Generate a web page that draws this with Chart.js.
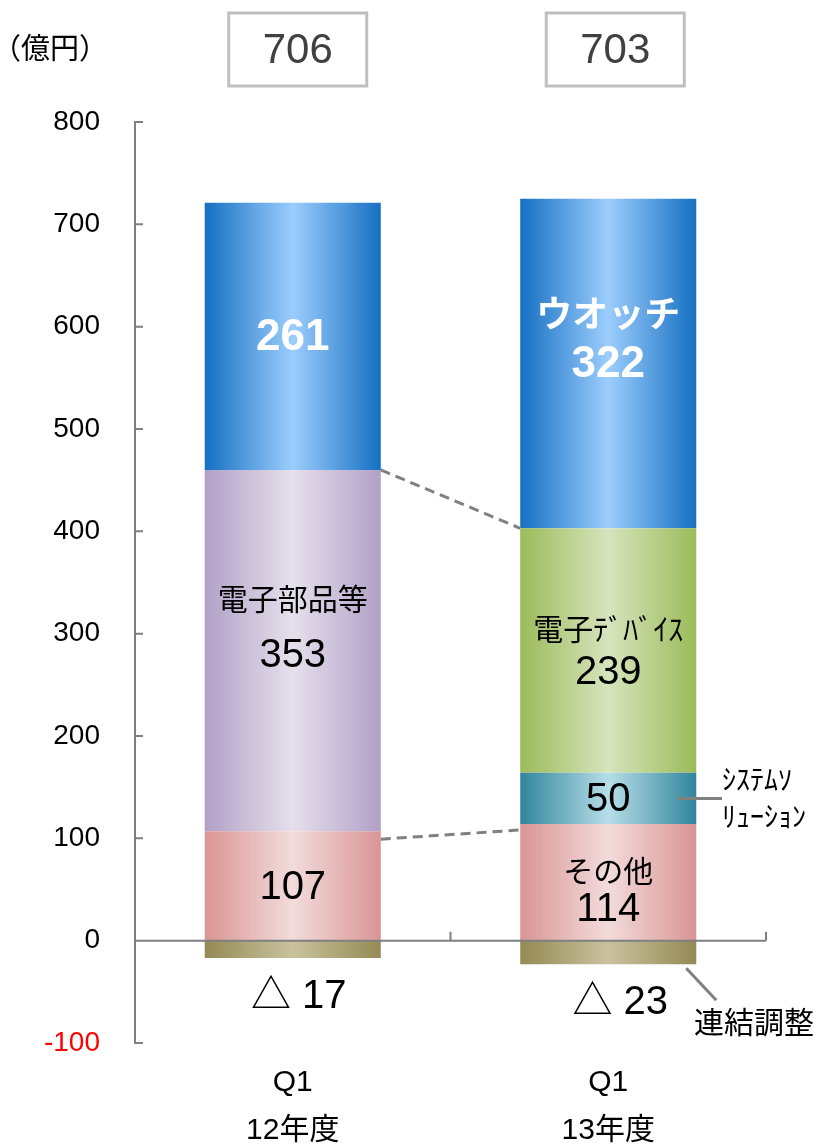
<!DOCTYPE html>
<html lang="ja">
<head>
<meta charset="UTF-8">
<title>売上高 Q1 比較</title>
<script src="https://cdn.jsdelivr.net/npm/chart.js"></script>
<style>
    html, body { margin: 0; padding: 0; background: #fff; }
    .grafico { position: relative; width: 821px; height: 1146px; }
</style>
</head>
<body>

<div class="grafico">
    <canvas id="vendas"></canvas>
</div>

<script>
    // 区分ごとの売上（億円）
    const categories = [['Q1', '12年度'], ['Q1', '13年度']];
    const other = [107, 114];
    const systemSolution = [null, 50];
    const componentsEtc = [353, null];
    const devices = [null, 239];
    const watch = [261, 322];
    const adjustment = [-17, -23];
    const totals = [706, 703];

    const yMin = -100;
    const yMax = 800;
    const yStep = 100;

    const FONT = "'Liberation Sans', 'Noto Sans CJK JP', sans-serif";
    const barPct = 0.558;

    // 棒の横方向グラデーション（端が濃く中央が明るい）
    function gradientFill(edge, mid) {
        return function (ctx) {
            const chart = ctx.chart;
            const area = chart.chartArea;
            if (!area || ctx.dataIndex === undefined) return edge;
            const cx = chart.scales.x.getPixelForValue(ctx.dataIndex);
            const half = (area.right - area.left) / categories.length * barPct / 2;
            const g = chart.ctx.createLinearGradient(cx - half, 0, cx + half, 0);
            g.addColorStop(0, edge);
            g.addColorStop(0.5, mid);
            g.addColorStop(1, edge);
            return g;
        };
    }

    function text(ctx, str, x, y, size, color, bold, align) {
        ctx.font = (bold ? 'bold ' : '') + size + 'px ' + FONT;
        ctx.fillStyle = color;
        ctx.textAlign = align || 'center';
        ctx.textBaseline = 'middle';
        ctx.fillText(str, x, y);
    }

    // 軸線・目盛り・ラベル類
    const decorations = {
        id: 'decorations',
        afterDatasetsDraw(chart) {
            const ctx = chart.ctx;
            const area = chart.chartArea;
            const ys = chart.scales.y;
            const xs = chart.scales.x;
            const y0 = ys.getPixelForValue(0);
            const el = (ds, i) => chart.getDatasetMeta(ds).data[i];
            const mid = (e) => (e.y + e.base) / 2;

            ctx.save();
            ctx.strokeStyle = '#808080';
            ctx.lineWidth = 2;

            // 0 の横線と区切り目盛り
            ctx.beginPath();
            ctx.moveTo(area.left, y0);
            ctx.lineTo(area.right, y0);
            const catW = (area.right - area.left) / categories.length;
            for (let i = 1; i <= categories.length; i++) {
                const x = area.left + catW * i;
                ctx.moveTo(x, y0);
                ctx.lineTo(x, y0 - 9);
            }
            // Y 軸の内向き目盛り
            for (let v = yMin; v <= yMax; v += yStep) {
                const y = ys.getPixelForValue(v);
                ctx.moveTo(area.left, y);
                ctx.lineTo(area.left + 8, y);
            }
            ctx.stroke();

            // 区分をつなぐ破線
            ctx.lineWidth = 3;
            ctx.setLineDash([10, 6]);
            ctx.beginPath();
            let a = el(2, 0), b = el(3, 1);
            ctx.moveTo(a.x + a.width / 2, a.y);
            ctx.lineTo(b.x - b.width / 2, b.y);
            a = el(0, 0); b = el(0, 1);
            ctx.moveTo(a.x + a.width / 2, a.y + 8);
            ctx.lineTo(b.x - b.width / 2, b.y + 6);
            ctx.stroke();
            ctx.setLineDash([]);

            // 引き出し線
            const sys = el(1, 1);
            ctx.beginPath();
            ctx.moveTo(sys.x + sys.width / 2 - 19, mid(sys));
            ctx.lineTo(722, mid(sys));
            const adj = el(5, 1);
            ctx.moveTo(adj.x + adj.width / 2 - 10, adj.y + 4);
            ctx.lineTo(adj.x + adj.width / 2 + 20, adj.y + 36);
            ctx.stroke();

            // 棒内のラベル
            let e = el(4, 0);
            text(ctx, String(watch[0]), e.x, mid(e) + 1, 44, '#fff', true);
            e = el(4, 1);
            text(ctx, 'ウオッチ', e.x, mid(e) - 46, 36, '#fff', true);
            text(ctx, String(watch[1]), e.x, mid(e) + 1, 44, '#fff', true);
            e = el(2, 0);
            text(ctx, '電子部品等', e.x, mid(e) - 49, 30, '#000');
            text(ctx, String(componentsEtc[0]), e.x, mid(e) + 5, 40, '#000');
            e = el(3, 1);
            text(ctx, '電子ﾃﾞﾊﾞｲｽ', e.x, mid(e) - 19, 30, '#000');
            text(ctx, String(devices[1]), e.x, mid(e) + 22, 40, '#000');
            e = el(1, 1);
            text(ctx, String(systemSolution[1]), e.x, mid(e) + 2, 40, '#000');
            e = el(0, 0);
            text(ctx, String(other[0]), e.x, mid(e) + 2, 40, '#000');
            e = el(0, 1);
            text(ctx, 'その他', e.x, mid(e) - 9, 30, '#000');
            text(ctx, String(other[1]), e.x, mid(e) + 28, 40, '#000');

            // 棒外のラベル
            text(ctx, 'ｼｽﾃﾑｿ', 722, mid(sys) - 16, 28, '#000', false, 'left');
            text(ctx, 'ﾘｭｰｼｮﾝ', 722, mid(sys) + 21, 28, '#000', false, 'left');
            text(ctx, '連結調整', 754, 1025, 30, '#000');

            for (let i = 0; i < adjustment.length; i++) {
                const d = el(5, i);
                text(ctx, '△ ' + Math.abs(adjustment[i]), d.x + 6 + i * 6, d.y + 39, 40, '#000');
            }

            // 合計の枠
            for (let i = 0; i < totals.length; i++) {
                const cx = xs.getPixelForValue(i) + 5 + i * 2;
                ctx.strokeStyle = '#bfbfbf';
                ctx.lineWidth = 3;
                ctx.strokeRect(cx - 69, 13, 138, 73);
                text(ctx, String(totals[i]), cx, 51, 42, '#404040');
            }

            text(ctx, '（億円）', 50, 51, 29, '#000');
            ctx.restore();
        }
    };

    const dados = {
        labels: categories,
        datasets: [
            { label: 'その他', data: other, backgroundColor: gradientFill('#d99594', '#f2dcdb') },
            { label: 'ｼｽﾃﾑｿﾘｭｰｼｮﾝ', data: systemSolution, backgroundColor: gradientFill('#31859c', '#b7dee8') },
            { label: '電子部品等', data: componentsEtc, backgroundColor: gradientFill('#b1a0c7', '#e6e0ec') },
            { label: '電子ﾃﾞﾊﾞｲｽ', data: devices, backgroundColor: gradientFill('#9bbb59', '#d7e4bd') },
            { label: 'ウオッチ', data: watch, backgroundColor: gradientFill('#1570c2', '#9ccdfd') },
            { label: '連結調整', data: adjustment, backgroundColor: gradientFill('#948a54', '#c9c29e') }
        ]
    };

    const config = {
        type: 'bar',
        data: dados,
        options: {
            responsive: true,
            maintainAspectRatio: false,
            animation: false,
            layout: { padding: { top: 122, right: 55, left: 0, bottom: 0 } },
            datasets: { bar: { barPercentage: barPct, categoryPercentage: 1, borderWidth: 0 } },
            plugins: { legend: { display: false }, tooltip: { enabled: false } },
            scales: {
                x: {
                    stacked: true,
                    grid: { display: false, drawTicks: false },
                    border: { display: false },
                    ticks: {
                        color: '#000',
                        padding: 16,
                        font: { family: FONT, size: 30, lineHeight: 1.6 }
                    },
                    afterFit(scale) { scale.height = 103; }
                },
                y: {
                    stacked: true,
                    min: yMin,
                    max: yMax,
                    grid: { display: false, drawTicks: false },
                    border: { display: true, color: '#808080', width: 2 },
                    ticks: {
                        stepSize: yStep,
                        padding: 35,
                        color: (c) => c.tick.value < 0 ? '#ff0000' : '#000',
                        font: { family: FONT, size: 28 }
                    },
                    afterFit(scale) { scale.width = 135; }
                }
            }
        },
        plugins: [decorations]
    };

    let myChart = new Chart(document.getElementById('vendas'), config);
</script>

</body>
</html>
